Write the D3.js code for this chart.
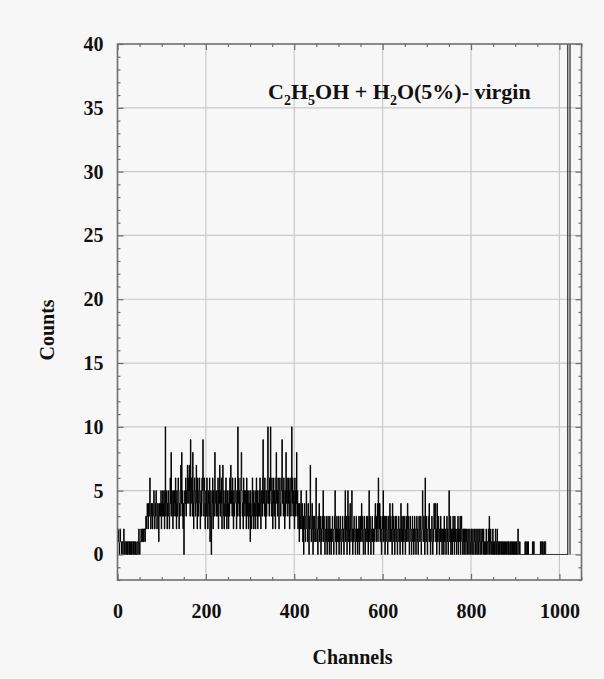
<!DOCTYPE html>
<html>
<head>
<meta charset="utf-8">
<script src="https://cdn.jsdelivr.net/npm/d3@7"></script>
<style>
  body { margin: 0; background: #f7f7f7; }
  svg { display: block; }
  .lbl { font-family: "Liberation Serif", "Times New Roman", serif; font-weight: bold; fill: #111; }
</style>
</head>
<body>
<div id="chart"></div>
<script>
var svgWidth = 604;
var svgHeight = 679;

// frame of the plot, in pixels
var frame = { left: 117.5, right: 581.5, top: 44, bottom: 580 };

// channel range shown and count range shown
var xDomain = [0, 1050];
var yDomain = [-2, 40];

var xMajorTicks = [0, 200, 400, 600, 800, 1000];
var yMajorTicks = [0, 5, 10, 15, 20, 25, 30, 35, 40];
var xGridLines = [200, 400, 600, 800, 1000];
var yGridLines = [0, 5, 10, 15, 20, 25, 30, 35];

// counts per channel (0..1023) in rows of 32
var counts = [
  2,1,2,1,0,1,2,1,1,0,1,1,0,1,2,1,0,1,1,0,1,0,1,0,1,1,0,1,0,1,0,1,
  0,1,1,0,1,0,1,1,0,1,0,0,1,1,0,1,2,1,0,1,1,2,1,1,2,1,2,1,2,2,1,2,
  3,2,3,4,3,2,4,3,4,6,3,2,4,3,4,2,3,4,5,3,2,4,3,5,4,2,3,4,3,1,4,3,
  4,3,5,2,4,3,5,4,3,5,2,4,10,3,4,5,2,4,3,5,4,2,3,6,4,8,3,5,4,2,5,3,
  4,5,3,6,4,2,5,3,4,6,5,2,4,3,5,7,4,8,3,5,2,4,0,3,5,4,6,3,5,4,7,5,
  6,4,7,5,3,9,4,6,5,3,8,4,2,5,6,4,3,5,7,4,2,6,5,3,4,6,5,2,4,5,3,6,
  5,9,4,3,6,5,2,4,5,3,6,4,2,5,4,3,6,1,4,5,0,3,4,6,2,5,4,3,8,5,4,3,
  5,3,4,6,2,5,4,7,3,5,4,6,2,4,7,5,3,2,4,5,3,6,4,2,5,3,4,2,5,3,6,4,
  7,4,5,3,6,4,2,5,3,4,6,5,4,2,5,3,10,4,6,3,5,2,4,6,8,5,3,4,2,6,4,5,
  3,5,4,2,6,3,5,4,2,5,3,4,1,5,3,2,4,6,3,5,2,4,3,5,2,4,6,3,5,2,4,3,
  5,3,6,4,2,5,4,3,6,9,4,5,3,6,4,2,5,3,4,6,10,4,5,3,6,5,10,4,3,6,5,2,
  4,6,3,5,4,2,6,8,4,5,3,6,4,2,5,6,4,3,5,6,9,4,5,3,6,4,2,5,3,8,4,6,
  5,3,6,4,5,2,6,4,3,5,10,4,6,3,5,4,2,6,3,5,4,8,3,5,2,4,3,1,4,3,2,5,
  3,2,4,1,3,0,2,4,3,1,2,5,3,2,1,4,2,0,3,2,7,3,1,2,4,2,0,3,1,2,3,1,
  2,6,3,1,2,0,3,2,4,1,2,3,0,2,1,3,2,5,1,3,2,0,1,2,3,1,0,2,3,1,2,0,
  3,1,2,0,2,1,3,2,1,0,2,3,5,1,2,0,3,1,2,1,3,0,2,1,3,2,0,1,2,3,1,2,
  0,2,3,5,1,2,3,0,2,5,1,3,2,0,4,2,1,3,5,2,0,2,1,3,2,1,0,2,3,1,2,0,
  2,1,3,0,2,3,1,2,4,1,3,2,0,1,3,2,0,2,1,3,2,1,3,0,2,5,1,3,2,0,1,2,
  3,1,2,0,2,1,3,4,2,1,3,2,4,1,6,3,2,4,1,3,2,0,1,3,2,5,1,3,2,0,3,1,
  2,3,1,0,2,3,1,2,4,1,3,2,1,0,4,2,3,1,2,0,3,2,1,3,2,0,1,2,3,1,2,0,
  2,4,1,3,2,0,3,1,2,3,1,0,2,3,1,2,4,1,3,2,0,1,3,2,1,0,2,3,1,2,0,1,
  3,2,1,0,2,3,1,2,0,1,3,2,1,3,2,0,1,3,5,2,1,3,2,0,6,2,1,3,2,0,1,2,
  3,4,1,2,0,1,2,3,1,0,2,1,4,2,3,4,1,2,0,4,1,2,3,1,0,2,1,3,2,1,0,2,
  1,2,0,3,1,2,1,0,2,3,1,2,0,1,5,2,1,3,0,2,1,0,2,3,1,2,0,3,1,2,1,0,
  2,1,3,0,2,1,2,3,0,1,3,2,1,0,2,1,0,2,1,2,0,1,2,1,0,2,1,0,1,2,1,0,
  1,2,0,1,2,1,0,1,2,1,0,2,1,0,1,2,0,1,2,1,0,1,2,0,1,2,1,0,2,1,0,1,
  0,1,2,0,1,1,0,2,1,3,0,1,2,0,1,1,0,2,1,0,1,0,1,2,0,1,0,2,1,0,1,0,
  1,0,1,1,0,1,0,1,1,0,1,0,1,1,0,0,1,0,1,1,0,1,0,0,1,0,1,1,0,1,0,0,
  1,0,1,0,0,1,0,1,0,0,2,1,0,0,1,0,0,0,0,0,0,0,0,0,0,0,1,0,1,0,0,1,
  0,1,0,0,0,0,0,0,0,0,0,1,0,1,1,0,0,0,0,0,0,0,0,0,0,0,0,0,0,1,0,1,
  1,0,1,0,0,1,0,1,1,0,0,0,0,0,0,0,0,0,0,0,0,0,0,0,0,0,0,0,0,0,0,0,
  0,0,0,0,0,0,0,0,0,0,0,0,0,0,0,0,0,0,0,0,0,0,0,0,0,0,0,60,60,60,60,60
];

var svg = d3.select("#chart")
  .append("svg")
  .attr("width", svgWidth)
  .attr("height", svgHeight);

svg.append("rect")
  .attr("width", svgWidth)
  .attr("height", svgHeight)
  .attr("fill", "#f7f7f7");

var xScale = d3.scaleLinear().domain(xDomain).range([frame.left, frame.right]);
var yScale = d3.scaleLinear().domain(yDomain).range([frame.bottom, frame.top]);

// grid
svg.append("g").selectAll("line")
  .data(xGridLines)
  .enter()
  .append("line")
  .attr("x1", d => xScale(d))
  .attr("x2", d => xScale(d))
  .attr("y1", frame.top)
  .attr("y2", frame.bottom)
  .attr("stroke", "#c9c9c9")
  .attr("stroke-width", 1.2);

svg.append("g").selectAll("line")
  .data(yGridLines)
  .enter()
  .append("line")
  .attr("x1", frame.left)
  .attr("x2", frame.right)
  .attr("y1", d => yScale(d))
  .attr("y2", d => yScale(d))
  .attr("stroke", "#c9c9c9")
  .attr("stroke-width", 1.2);

// histogram as a step line
var points = counts.map((c, i) => [i, c]);
points.push([counts.length, counts[counts.length - 1]]);
points.push([counts.length, 0]);

svg.append("clipPath")
  .attr("id", "plotClip")
  .append("rect")
  .attr("x", frame.left)
  .attr("y", frame.top)
  .attr("width", frame.right - frame.left)
  .attr("height", frame.bottom - frame.top);

var stepLine = d3.line()
  .x(d => xScale(d[0]))
  .y(d => yScale(d[1]))
  .curve(d3.curveStepAfter);

svg.append("path")
  .datum(points)
  .attr("clip-path", "url(#plotClip)")
  .attr("d", stepLine)
  .attr("fill", "none")
  .attr("stroke", "#000")
  .attr("stroke-width", 1);

// frame
svg.append("rect")
  .attr("x", frame.left)
  .attr("y", frame.top)
  .attr("width", frame.right - frame.left)
  .attr("height", frame.bottom - frame.top)
  .attr("fill", "none")
  .attr("stroke", "#6e6e6e")
  .attr("stroke-width", 1.6);

// ticks on all four sides, pointing in
var xMinor = d3.range(0, 1051, 50).filter(d => d % 200 !== 0);
var yMinor = d3.range(-2, 41, 1).filter(d => d % 5 !== 0);

function frameTicks(axis, transform) {
  var g = svg.append("g")
    .attr("transform", transform)
    .call(axis);
  g.select(".domain").remove();
  g.selectAll(".tick line").attr("stroke", "#6e6e6e").attr("stroke-width", 1.2);
  return g;
}

var bottomAxis = frameTicks(
  d3.axisBottom(xScale).tickValues(xMajorTicks).tickFormat(d3.format("d"))
    .tickSizeInner(-6).tickPadding(24),
  `translate(0, ${frame.bottom})`);
bottomAxis.selectAll("text").attr("class", "lbl").style("font-size", "20px");

frameTicks(d3.axisBottom(xScale).tickValues(xMinor).tickSizeInner(-3).tickFormat(""),
  `translate(0, ${frame.bottom})`);
frameTicks(d3.axisTop(xScale).tickValues(xMajorTicks).tickSizeInner(-6).tickFormat(""),
  `translate(0, ${frame.top})`);
frameTicks(d3.axisTop(xScale).tickValues(xMinor).tickSizeInner(-3).tickFormat(""),
  `translate(0, ${frame.top})`);

var leftAxis = frameTicks(
  d3.axisLeft(yScale).tickValues(yMajorTicks).tickFormat(d3.format("d"))
    .tickSizeInner(-6).tickPadding(14),
  `translate(${frame.left}, 0)`);
leftAxis.selectAll("text").attr("class", "lbl").style("font-size", "20px");

frameTicks(d3.axisLeft(yScale).tickValues(yMinor).tickSizeInner(-3).tickFormat(""),
  `translate(${frame.left}, 0)`);
frameTicks(d3.axisRight(yScale).tickValues(yMajorTicks).tickSizeInner(-6).tickFormat(""),
  `translate(${frame.right}, 0)`);
frameTicks(d3.axisRight(yScale).tickValues(yMinor).tickSizeInner(-3).tickFormat(""),
  `translate(${frame.right}, 0)`);

// axis titles
svg.append("text")
  .attr("class", "lbl")
  .attr("x", (frame.left + frame.right) / 2 + 3)
  .attr("y", 664)
  .attr("text-anchor", "middle")
  .style("font-size", "20px")
  .text("Channels");

svg.append("text")
  .attr("class", "lbl")
  .attr("transform", "rotate(-90)")
  .attr("x", -330)
  .attr("y", 54)
  .attr("text-anchor", "middle")
  .style("font-size", "20px")
  .text("Counts");

// legend label with subscripts
var title = svg.append("text")
  .attr("class", "lbl")
  .attr("x", 268)
  .attr("y", 99)
  .style("font-size", "22px");
title.append("tspan").text("C");
title.append("tspan").attr("dy", 6).style("font-size", "14px").text("2");
title.append("tspan").attr("dy", -6).text("H");
title.append("tspan").attr("dy", 6).style("font-size", "14px").text("5");
title.append("tspan").attr("dy", -6).text("OH + H");
title.append("tspan").attr("dy", 6).style("font-size", "14px").text("2");
title.append("tspan").attr("dy", -6).text("O(5%)- virgin");
</script>
</body>
</html>
